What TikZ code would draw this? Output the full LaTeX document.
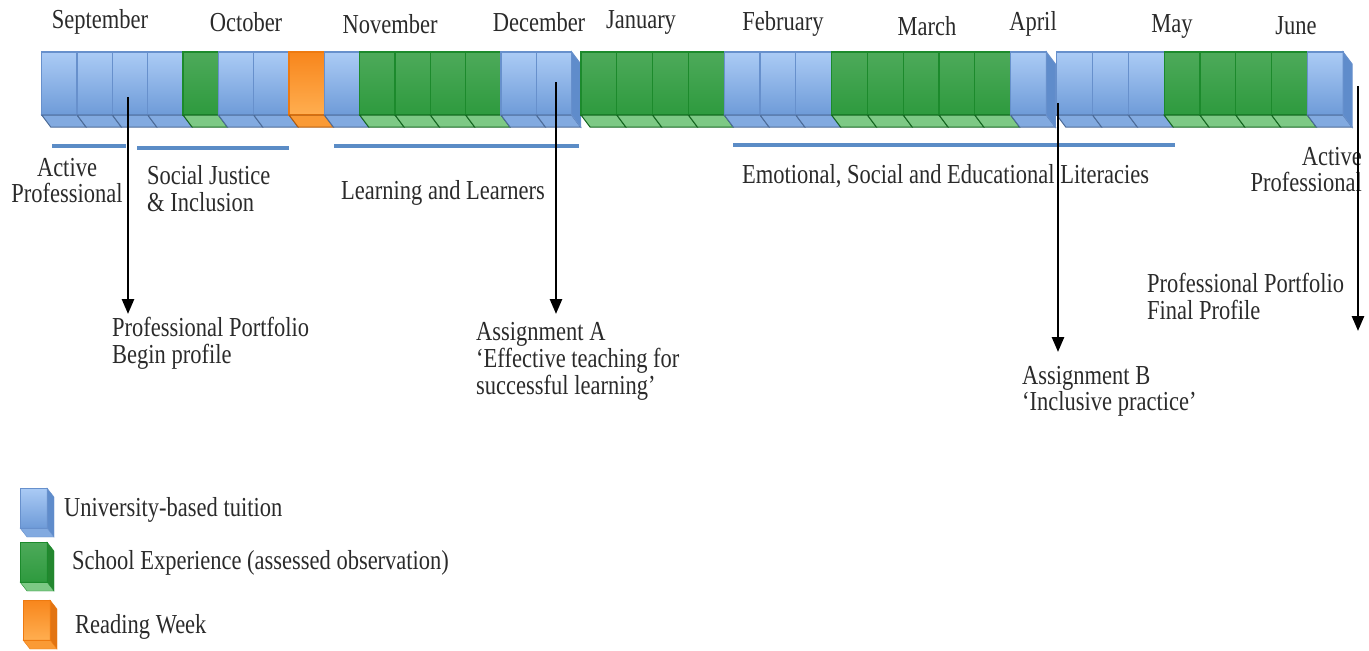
\documentclass[tikz,border=0pt]{standalone}
\usepackage{fontspec}
\setmainfont{Liberation Serif}
\usepackage{graphicx}
\usetikzlibrary{arrows.meta}
\definecolor{topB}{HTML}{ABCBF5}
\definecolor{botB}{HTML}{6E9BD8}
\definecolor{edgeB}{HTML}{6790CC}
\definecolor{floorB}{HTML}{82AAE0}
\definecolor{sideB}{HTML}{5F8CCB}
\definecolor{topG}{HTML}{4DAA5A}
\definecolor{botG}{HTML}{2E9A3E}
\definecolor{edgeG}{HTML}{1C8A2C}
\definecolor{floorG}{HTML}{7DC985}
\definecolor{sideG}{HTML}{23872F}
\definecolor{topO}{HTML}{F8861C}
\definecolor{botO}{HTML}{FFAE50}
\definecolor{edgeO}{HTML}{EE7A10}
\definecolor{floorO}{HTML}{FA9A35}
\definecolor{sideO}{HTML}{E27412}
\definecolor{barblue}{HTML}{5B8CC6}
\definecolor{ink}{HTML}{2A2A2A}
\newcommand{\dx}{9}
\newcommand{\dy}{12}
\newcommand{\tall}[1]{\scalebox{1}[1.22]{#1}}
\newcommand{\lines}[2][l]{\tall{\begin{tabular}{@{}#1@{}}#2\end{tabular}}}

% one week of the bar: #1 left x, #2 width, #3 kind (B, G or O)
\newcommand{\week}[3]{%
  \shade[top color=top#3, bottom color=bot#3] (#1,52) rectangle ++(#2,63);
  \draw[edge#3, line width=1.2] (#1,52) rectangle ++(#2,63);
  \filldraw[fill=floor#3, draw=edge#3!75!black, line width=1] (#1,115) -- ++(#2,0) -- ++(\dx,\dy) -- ++(-#2,0) -- cycle;
}
% right end of a run of weeks
\newcommand{\weekend}[2]{%
  \filldraw[fill=side#2, draw=edge#2, line width=1] (#1,52) -- ++(\dx,\dy) -- ++(0,63) -- ++(-\dx,-\dy) -- cycle;
}
% key box: #1 x, #2 y, #3 kind
\newcommand{\keybox}[3]{%
  \shade[top color=top#3, bottom color=bot#3] (#1,#2) rectangle ++(27,40);
  \filldraw[fill=side#3, draw=edge#3] (#1+27,#2) -- ++(7,9) -- ++(0,40) -- ++(-7,-9) -- cycle;
  \filldraw[fill=floor#3, draw=edge#3] (#1,#2+40) -- ++(27,0) -- ++(7,9) -- ++(-27,0) -- cycle;
  \draw[edge#3] (#1,#2) rectangle ++(27,40);
}

\begin{document}
\begin{tikzpicture}[x=1pt,y=-1pt,
    lbl/.style={inner sep=0pt, text=ink, font=\fontsize{22.5}{19.7}\selectfont},
    bar/.style={barblue, line width=4.5pt},
    pointer/.style={line width=2.6pt, -{Triangle[length=15pt,width=12pt]}}]
\useasboundingbox (0,0) rectangle (1369,651);

% weeks
\foreach \k [count=\i from 0] in {B,B,B,B,G,B,B,O,B,G,G,G,G,B,B} {
    \pgfmathsetmacro{\xx}{41.7+35.33*\i}
    \week{\xx}{35.33}{\k}
}
\weekend{571.7}{B}
\foreach \k [count=\i from 0] in {G,G,G,G,B,B,B,G,G,G,G,G,B} {
    \pgfmathsetmacro{\xx}{581+35.8*\i}
    \week{\xx}{35.8}{\k}
}
\weekend{1046.4}{B}
\foreach \k [count=\i from 0] in {B,B,B,G,G,G,G,B} {
    \pgfmathsetmacro{\xx}{1056.7+35.8*\i}
    \week{\xx}{35.8}{\k}
}
\weekend{1343.1}{B}

% months
\foreach \m/\x/\y in {September/100/22, October/246/22, November/390/24, December/539/22,
    January/641/22, February/783/24, March/927/26, April/1033/24, May/1172/26, June/1296/26} {
    \node[lbl] (m\m) at (\x,\y) {\tall{\m}};
}

% themes
\draw[bar] (52,146) -- (126,146);
\draw[bar] (137,148) -- (289,148);
\draw[bar] (334,146) -- (579,146);
\draw[bar] (733,145) -- (1175,145);
\node[lbl] (ap1) at (67,184) {\lines[c]{Active\\Professional}};
\node[lbl, anchor=west] (sji) at (147,192) {\lines{Social Justice\\\& Inclusion}};
\node[lbl, anchor=west] (lal) at (341,193) {\tall{Learning and Learners}};
\node[lbl, anchor=west] (esel) at (742,176) {\tall{Emotional, Social and Educational Literacies}};
\node[lbl, anchor=east] (ap2) at (1362,173) {\lines[r]{Active\\Professional}};

% hand-ins
\coordinate (ppS) at (128,97);
\coordinate (ppE) at (128,314);
\coordinate (asaS) at (556,82);
\coordinate (asaE) at (556,314);
\coordinate (asbS) at (1058,103);
\coordinate (asbE) at (1058,352);
\coordinate (fpS) at (1358,86);
\coordinate (fpE) at (1358,331);
\draw[pointer] (ppS) -- (ppE);
\draw[pointer] (asaS) -- (asaE);
\draw[pointer] (asbS) -- (asbE);
\draw[pointer] (fpS) -- (fpE);
\node[lbl, anchor=west] (pp) at (112,344) {\lines{Professional Portfolio\\Begin profile}};
\node[lbl, anchor=west] (asa) at (476,362) {\lines{Assignment A\\‘Effective teaching for\\successful learning’}};
\node[lbl, anchor=west] (fp) at (1147,300) {\lines{Professional Portfolio\\Final Profile}};
\node[lbl, anchor=west] (asb) at (1022,392) {\lines{Assignment B\\‘Inclusive practice’}};

% key
\keybox{20}{488}{B}
\keybox{20}{542}{G}
\keybox{23}{600}{O}
\node[lbl, anchor=west] (kB) at (64,510) {\tall{University-based tuition}};
\node[lbl, anchor=west] (kG) at (72,563) {\tall{School Experience (assessed observation)}};
\node[lbl, anchor=west] (kO) at (75,627) {\tall{Reading Week}};
\end{tikzpicture}
\end{document}
